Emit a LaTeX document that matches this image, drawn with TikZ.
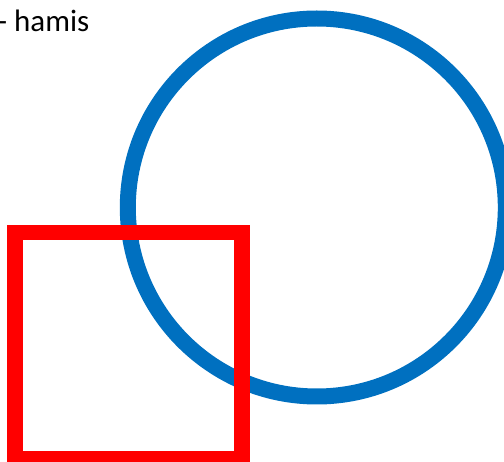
\documentclass[tikz,border=0pt]{standalone}
\usepackage{fontspec}
\setmainfont{Carlito}
\definecolor{circblue}{HTML}{0070C0}
\definecolor{sqred}{HTML}{FF0000}

\begin{document}
\begin{tikzpicture}[x=1pt, y=-1pt]
    \useasboundingbox (0,0) rectangle (504,462);
    \draw[circblue, line width=16pt] (316.8,207.5) circle (189pt);
    \draw[sqred, line width=15.5pt] (15,232.5) rectangle (242,458.75);
    \node[anchor=base west, inner sep=0pt, font=\fontsize{31}{36}\selectfont] (label) at (-2.5,31.7) {- hamis};
  \end{tikzpicture}
\end{document}
